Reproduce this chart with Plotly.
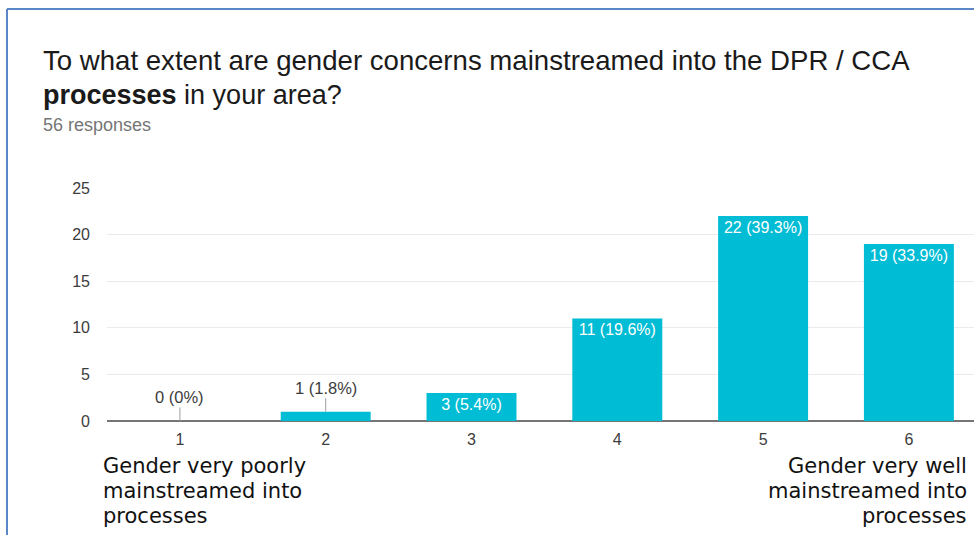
import plotly.graph_objects as go

# Survey answers: scale 1-6, number of responses per point
categories = [1, 2, 3, 4, 5, 6]
counts = [0, 1, 3, 11, 22, 19]
percents = ["0%", "1.8%", "5.4%", "19.6%", "39.3%", "33.9%"]
y_ticks = [0, 5, 10, 15, 20, 25]

title_line1 = "To what extent are gender concerns mainstreamed into the DPR / CCA"
title_line2 = "<b>processes</b> in your area?"
subtitle = "56 responses"
low_label = ["Gender very poorly", "mainstreamed into", "processes"]
high_label = ["Gender very well", "mainstreamed into", "processes"]

W, H = 974, 535
ML, MR, MT, MB = 107, 0, 188, 114
plot_w = W - ML - MR
plot_h = H - MT - MB
step = 145.8  # pixels per category

SANS = "Liberation Sans, Arial, Helvetica"


def px(xp):
    return (xp - ML) / plot_w


def py(yp):
    return (H - MB - yp) / plot_h


labels = [f"{c} ({p})" for c, p in zip(counts, percents)]
inside = [c >= 3 for c in counts]
bar_text = [lab if ok else "" for lab, ok in zip(labels, inside)]

bar_color = "#00BCD4"

fig = go.Figure(
    go.Bar(
        x=categories,
        y=counts,
        width=0.617,
        marker=dict(color=bar_color, line=dict(width=0)),
        text=bar_text,
        textposition="inside",
        insidetextanchor="end",
        textangle=0,
        textfont=dict(family=SANS, size=16, color="white"),
        cliponaxis=False,
        hoverinfo="skip",
    )
)

annotations = []
# small bars get their label above with a short leader line
for cat, val, lab, ok in zip(categories, counts, labels, inside):
    if not ok:
        annotations.append(dict(
            x=cat, y=val, xref="x", yref="y", text=lab,
            showarrow=True, arrowhead=0, arrowwidth=1, arrowcolor="#9e9e9e",
            ax=0, ay=-24, standoff=0,
            font=dict(family=SANS, size=16.5, color="#3c3c3c"),
        ))

annotations += [
    dict(x=px(41), y=py(60), xref="paper", yref="paper", text=title_line1,
         showarrow=False, xanchor="left", yanchor="middle",
         font=dict(family=SANS, size=27.6, color="#1a1a1a")),
    dict(x=px(41), y=py(95), xref="paper", yref="paper", text=title_line2,
         showarrow=False, xanchor="left", yanchor="middle",
         font=dict(family=SANS, size=27, color="#1a1a1a")),
    dict(x=px(41), y=py(125), xref="paper", yref="paper", text=subtitle,
         showarrow=False, xanchor="left", yanchor="middle",
         font=dict(family=SANS, size=18, color="#757575")),
]

# end-of-scale captions, one annotation per line for tight spacing
for i, (lo, hi) in enumerate(zip(low_label, high_label)):
    yy = py(466 + 25 * i)
    annotations.append(dict(
        x=px(101), y=yy, xref="paper", yref="paper", text=lo,
        showarrow=False, xanchor="left", yanchor="middle",
        font=dict(family="DejaVu Sans", size=21, color="#111111")))
    annotations.append(dict(
        x=px(969), y=yy, xref="paper", yref="paper", text=hi,
        showarrow=False, xanchor="right", yanchor="middle",
        font=dict(family="DejaVu Sans", size=21, color="#111111")))

border = "#5b87c7"
shapes = [
    dict(type="line", xref="paper", yref="paper",
         x0=px(7), y0=py(540), x1=px(7), y1=py(9),
         line=dict(color=border, width=2)),
    dict(type="line", xref="paper", yref="paper",
         x0=px(7), y0=py(9), x1=px(980), y1=py(9),
         line=dict(color=border, width=2)),
]

fig.update_layout(
    width=W, height=H,
    margin=dict(l=ML, r=MR, t=MT, b=MB, pad=0),
    paper_bgcolor="white", plot_bgcolor="white",
    showlegend=False,
    annotations=annotations,
    shapes=shapes,
    uniformtext=dict(minsize=16, mode="show"),
    xaxis=dict(
        range=[0.5, 0.5 + plot_w / step],
        tickmode="array", tickvals=categories,
        ticktext=[str(c) for c in categories],
        showgrid=False, zeroline=False, showline=False,
        ticks="", ticklabelstandoff=7,
        tickfont=dict(family=SANS, size=16, color="#3c3c3c"),
        fixedrange=True,
    ),
    yaxis=dict(
        range=[0, 25],
        tickmode="array", tickvals=y_ticks,
        ticktext=[str(v) for v in y_ticks],
        showgrid=True, gridcolor="#ebebeb", gridwidth=1,
        zeroline=True, zerolinecolor="#757575", zerolinewidth=2,
        showline=False, ticks="", ticklabelstandoff=16,
        tickfont=dict(family=SANS, size=16, color="#3c3c3c"),
        fixedrange=True,
    ),
)

fig.write_html("out.html")
